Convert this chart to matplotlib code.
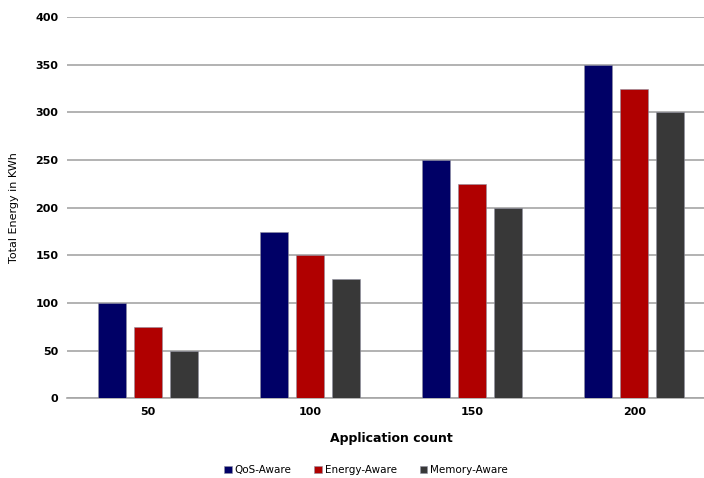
import numpy as np
import matplotlib.pyplot as plt

# Energy use per scheduling policy
apps = ['50', '100', '150', '200']
qos_aware = [100, 175, 250, 350]
energy_aware = [75, 150, 225, 325]
memory_aware = [50, 125, 200, 300]

series = [('QoS-Aware', qos_aware, '#000066'),
          ('Energy-Aware', energy_aware, '#b00000'),
          ('Memory-Aware', memory_aware, '#383838')]

fig = plt.figure(figsize=(7.04, 4.78), dpi=100)
# plot area runs slightly past the right edge of the canvas
ax = fig.add_axes([0.095, 0.167, 0.921, 0.797])

x = np.arange(len(apps))
w = 0.173
step = 0.222
for i, (name, vals, col) in enumerate(series):
    ax.bar(x + (i - 1) * step, vals, w, color=col, label=name, zorder=3,
           edgecolor='#9090a0', linewidth=0.4)

ax.set_xlim(-0.5, 3.5)
ax.set_ylim(0, 400)
ax.set_yticks(range(0, 401, 50))
ax.set_xticks(x)
ax.set_xticklabels(apps)
ax.yaxis.grid(True, color='#a6a6a6', linewidth=1.2, zorder=0)
for s in ['top', 'right', 'left']:
    ax.spines[s].set_visible(False)
ax.spines['bottom'].set_color('#a6a6a6')
ax.spines['bottom'].set_linewidth(1.2)
ax.tick_params(length=0, labelsize=8, pad=6)
for lab in ax.get_xticklabels() + ax.get_yticklabels():
    lab.set_fontweight('bold')

ax.set_xlabel('Application count', fontsize=9, fontweight='bold', labelpad=11)
ax.set_ylabel('Total Energy in KWh', fontsize=8, labelpad=12)

fig.legend(*ax.get_legend_handles_labels(), loc='center', bbox_to_anchor=(0.52, 0.017),
           ncol=3, frameon=False, fontsize=7.5, handlelength=0.7, handleheight=0.7,
           columnspacing=2.2, handletextpad=0.3)

fig.savefig('out.png', dpi=100)
